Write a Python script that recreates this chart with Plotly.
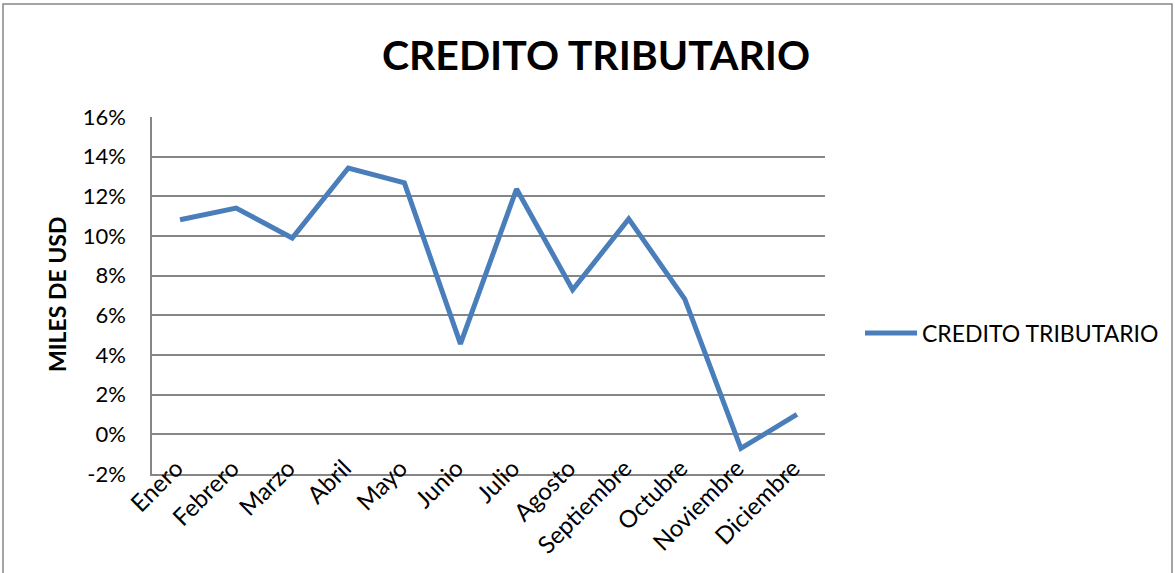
import plotly.graph_objects as go

months = ["Enero", "Febrero", "Marzo", "Abril", "Mayo", "Junio", "Julio",
          "Agosto", "Septiembre", "Octubre", "Noviembre", "Diciembre"]
credito = [0.1082, 0.1141, 0.0990, 0.1343, 0.1268, 0.0456, 0.1237,
           0.0729, 0.1086, 0.0682, -0.0071, 0.0101]
series_name = "CREDITO TRIBUTARIO"
y_ticks = [-0.02, 0, 0.02, 0.04, 0.06, 0.08, 0.10, 0.12, 0.14, 0.16]
y_ticktext = [f"{round(v * 100)}%" for v in y_ticks]

FONT = "Lato"
W, H = 1175, 573
# plot area in page pixels
PL, PR, PT, PB = 152, 825, 117, 474
pw, ph = PR - PL, PB - PT


def px(x):
    return (x - PL) / pw


def py(y):
    return (PB - y) / ph


fig = go.Figure()
fig.add_trace(go.Scatter(
    x=months, y=credito, mode="lines", name=series_name,
    line=dict(color="#4A7EBB", width=5),
))

fig.update_layout(
    width=W, height=H,
    margin=dict(l=PL, r=W - PR, t=PT, b=H - PB, autoexpand=False),
    paper_bgcolor="white", plot_bgcolor="white",
    font=dict(family=FONT, size=23, color="black"),
    title=dict(text="<b>CREDITO TRIBUTARIO</b>", x=596 / W, xanchor="center",
               y=1 - 56 / H, yanchor="middle", yref="container",
               font=dict(family=FONT, size=41, color="black")),
    showlegend=True,
    legend=dict(x=px(860), xanchor="left", y=py(333),
                yanchor="middle", font=dict(family=FONT, size=23),
                itemwidth=52, bgcolor="rgba(0,0,0,0)"),
    xaxis=dict(type="category", range=[-0.5, 11.5], tickangle=-45,
               showgrid=False, showline=True, linecolor="#868686", linewidth=1.5,
               ticks="", ticklabelstandoff=-31, ticklabelshift=-4,
               tickfont=dict(family=FONT, size=24)),
    yaxis=dict(range=[-0.02, 0.16], tickvals=y_ticks, ticktext=y_ticktext,
               showgrid=True, gridcolor="#868686", gridwidth=1.5,
               zeroline=False, showline=True, linecolor="#868686", linewidth=1.5,
               ticks="", ticklabelstandoff=20, tickfont=dict(family=FONT, size=22)),
    annotations=[dict(text="<b>MILES DE USD</b>", textangle=-90, showarrow=False,
                      xref="paper", yref="paper", x=px(57), y=py(295),
                      xanchor="center", yanchor="middle",
                      font=dict(family=FONT, size=23, color="black"))],
    shapes=[dict(type="rect", xref="paper", yref="paper",
                 x0=px(3), x1=px(1172),
                 y0=py(600), y1=py(4),
                 line=dict(color="#868686", width=1.5), layer="below")],
)

fig.write_html("out.html", config={"displayModeBar": False},
               post_script="document.body.style.margin='0';document.body.style.overflow='hidden';")
